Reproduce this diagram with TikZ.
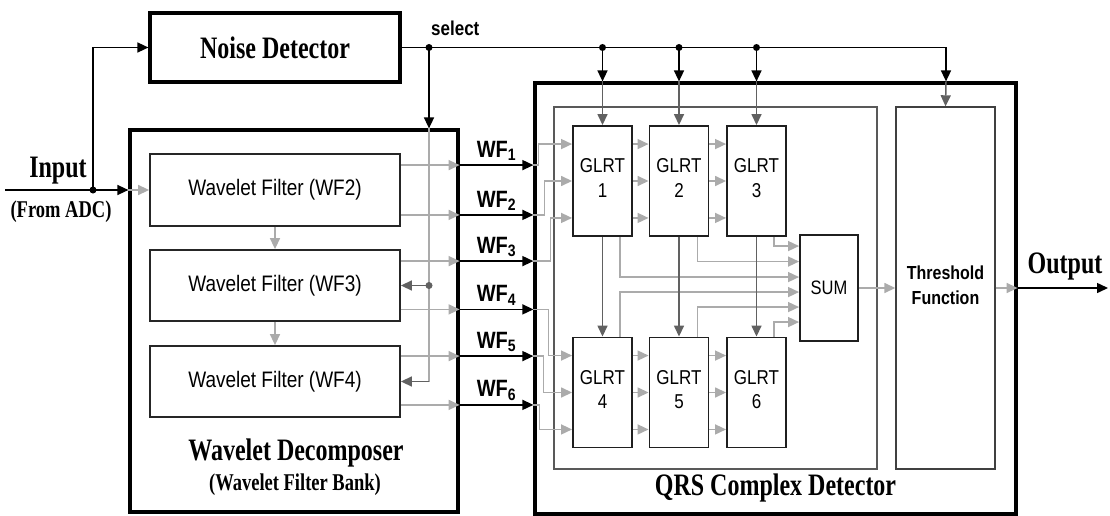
\documentclass[tikz,border=0pt]{standalone}
\usepackage{fontspec}
\usepackage{graphicx}
\setmainfont{Liberation Serif}
\setsansfont{Liberation Sans}
\usetikzlibrary{arrows.meta,calc}

% tall lettering used for the labels
\newcommand{\tallserif}[2]{\scalebox{1}[1.3]{\fontsize{#1}{#1}\selectfont\bfseries #2}}
\newcommand{\tallsans}[2]{\scalebox{1}[1.18]{\fontsize{#1}{#1}\selectfont\sffamily #2}}

\begin{document}
\begin{tikzpicture}[x=1pt,y=-1pt,
  tip/.style={-{Triangle[length=11pt,width=10pt]}},
  bigbox/.style={draw=black, line width=3.2pt, rectangle, inner sep=0pt, fill=white},
  filterbox/.style={draw=black!85, line width=1.8pt, rectangle, inner sep=0pt},
  glrtbox/.style={draw=black!88, line width=1.9pt, rectangle, inner sep=0pt, fill=white},
  innerbox/.style={draw=black!65, line width=1.4pt, rectangle, inner sep=0pt},
  blk/.style={tip, draw=black, line width=1.5pt},
  lg/.style={tip, draw=black!33, line width=1.5pt},
  dg/.style={tip, draw=black!62, line width=1.5pt},
  wire/.style={draw=black, line width=1.5pt},
  dot/.style={circle, fill=black, inner sep=0pt, minimum size=7pt},
  gdot/.style={circle, fill=black!62, inner sep=0pt, minimum size=7pt},
  lbl/.style={inner sep=0pt}]

\useasboundingbox (0,0) rectangle (1110,516);

% ---------------- boxes ----------------
\node[bigbox, minimum width=250pt, minimum height=69pt] (noise) at (275,47.5)
  {\tallserif{24pt}{Noise Detector}};
\node[bigbox, minimum width=328pt, minimum height=382pt] (wd) at (294,321) {};
\node[filterbox, minimum width=250pt, minimum height=72pt] (wf2) at (275,190)
  {\tallsans{19pt}{Wavelet Filter (WF2)}};
\node[filterbox, minimum width=250pt, minimum height=71pt] (wf3) at (275,285.5)
  {\tallsans{19pt}{Wavelet Filter (WF3)}};
\node[filterbox, minimum width=250pt, minimum height=71pt] (wf4) at (275,381.5)
  {\tallsans{19pt}{Wavelet Filter (WF4)}};

\node[bigbox, minimum width=481pt, minimum height=431pt] (qrs) at (775.5,298.5) {};
\node[innerbox, minimum width=323pt, minimum height=362pt] (inner) at (715.5,288) {};
\node[innerbox, draw=black!75, minimum width=99pt, minimum height=362pt] (thr) at (945.5,288)
  {\tallsans{16pt}{\bfseries\begin{tabular}{@{}c@{}}Threshold\\[4pt]Function\end{tabular}}};

\foreach \n/\x/\y/\k in {g1/602.5/181/1, g2/679/181/2, g3/756.5/181/3,
                         g4/602.5/392.5/4, g5/679/392.5/5, g6/756.5/392.5/6}
  \node[glrtbox, minimum width=59pt, minimum height=110pt] (\n) at (\x,\y)
    {\tallsans{17pt}{\begin{tabular}{@{}c@{}}GLRT\\[4pt]\k\end{tabular}}};

\node[glrtbox, minimum width=58pt, minimum height=106pt] (sum) at (829,288)
  {\tallsans{16.5pt}{SUM}};

% ---------------- text labels ----------------
\node[lbl] (inlab) at (58,171) {\tallserif{24pt}{Input}};
\node[lbl] (adclab) at (61,212) {\tallserif{18.5pt}{(From ADC)}};
\node[lbl] (outlab) at (1065,266) {\tallserif{24pt}{Output}};
\node[lbl] (wdlab) at (296,453) {\tallserif{24pt}{Wavelet Decomposer}};
\node[lbl] (wdlab2) at (295,485) {\tallserif{18.5pt}{(Wavelet Filter Bank)}};
\node[lbl] (qrslab) at (775.5,488) {\tallserif{24pt}{QRS Complex Detector}};
\node[lbl, anchor=west] (sellab) at (431,28) {\tallsans{17pt}{\bfseries select}};

% ---------------- input ----------------
\coordinate (src) at (5,190);
\node[dot] (jin) at (93,190) {};
\draw[blk] (src) -- (wd.west |- src);
\draw[blk] (jin.center) |- (noise.west);
\draw[lg] (wd.west |- wf2.west) -- (wf2.west);

% filter chain
\draw[lg] (wf2.south) -- (wf3.north);
\draw[lg] (wf3.south) -- (wf4.north);

% ---------------- select line ----------------
\coordinate (selend) at (946,47.5);
\node[dot] (js) at (429,47.5) {};
\node[dot] (j1) at (602.5,47.5) {};
\node[dot] (j2) at (679,47.5) {};
\node[dot] (j3) at (756.5,47.5) {};
\draw[wire] (noise.east) -- (selend);
\draw[blk] (selend) -- (selend |- qrs.north);
\draw[dg] (selend |- qrs.north) -- (thr.north);
\foreach \j/\g in {j1/g1, j2/g2, j3/g3} {
  \draw[blk] (\j.center) -- (\j |- qrs.north);
  \draw[dg] (\j |- qrs.north) -- (\g.north);
}

% filter outputs
\coordinate (p1) at ($(wf2.north east)+(0,12)$);
\coordinate (p2) at ($(wf2.south east)+(0,-12)$);
\coordinate (p3) at ($(wf3.north east)+(0,12)$);
\coordinate (p4) at ($(wf3.south east)+(0,-12.5)$);
\coordinate (p5) at ($(wf4.north east)+(0,11)$);
\coordinate (p6) at ($(wf4.south east)+(0,-13)$);
\foreach \i in {1,...,6} {
  \draw[lg] (p\i) -- (p\i -| wd.east);
  \draw[blk] (p\i -| wd.east) -- (p\i -| qrs.west);
  \node[lbl, anchor=south] at ($(p\i -| wd.east)!0.5!(p\i -| qrs.west)+(0,-4)$)
    {\tallsans{20pt}{\bfseries WF\textsubscript{\i}}};
}

% select inside the decomposer
\draw[blk] (js.center) -- (js |- wd.north);
\draw[draw=black!33, line width=1.5pt] (js |- wd.north) -- (js |- wf4.east);
\node[gdot] (jw) at (js |- wf3.east) {};
\draw[dg] (jw.center) -- (wf3.east);
\draw[dg] (js |- wf4.east) -- (wf4.east);

% ---------------- into the GLRT bank ----------------
\draw[lg] (p1 -| qrs.west) -- ++(5,0) |- ($(g1.north west)+(0,19)$);
\draw[lg] (p2 -| qrs.west) -- ++(11,0) |- (g1.west);
\draw[lg] (p3 -| qrs.west) -- ++(17,0) |- ($(g1.south west)+(0,-19)$);
\draw[lg] (p4 -| qrs.west) -- ++(15,0) |- ($(g4.north west)+(0,19)$);
\draw[lg] (p5 -| qrs.west) -- ++(10,0) |- (g4.west);
\draw[lg] (p6 -| qrs.west) -- ++(6,0) |- ($(g4.south west)+(0,-19)$);

\foreach \a/\b in {g1/g2, g2/g3, g4/g5, g5/g6} {
  \draw[lg] ($(\a.north east)+(0,19)$) -- ($(\b.north west)+(0,19)$);
  \draw[lg] (\a.east) -- (\b.west);
  \draw[lg] ($(\a.south east)+(0,-19)$) -- ($(\b.south west)+(0,-19)$);
}

% GLRT outputs to SUM
\coordinate (s1) at ($(sum.north west)+(0,12)$);
\coordinate (s2) at ($(sum.north west)+(0,27.5)$);
\coordinate (s3) at ($(sum.north west)+(0,43)$);
\coordinate (s4) at ($(sum.north west)+(0,58)$);
\coordinate (s5) at ($(sum.north west)+(0,73)$);
\coordinate (s6) at ($(sum.north west)+(0,88)$);
\draw[lg] ($(g3.south east)+(-13,0)$) |- (s1);
\draw[lg] ($(g2.south east)+(-12,0)$) |- (s2);
\draw[lg] ($(g1.south east)+(-13,0)$) |- (s3);
\draw[lg] ($(g4.north east)+(-13,0)$) |- (s4);
\draw[lg] ($(g5.north east)+(-12,0)$) |- (s5);
\draw[lg] ($(g6.north east)+(-13,0)$) |- (s6);

% column links
\draw[dg] (g1.south) -- (g4.north);
\draw[dg] (g2.south) -- (g5.north);
\draw[dg] (g3.south) -- (g6.north);

% ---------------- output ----------------
\coordinate (outend) at (1108,288);
\draw[lg] (sum.east) -- (thr.west);
\draw[lg] (thr.east) -- (thr.east -| qrs.east);
\draw[blk] (qrs.east |- thr.east) -- (outend);

\end{tikzpicture}
\end{document}
